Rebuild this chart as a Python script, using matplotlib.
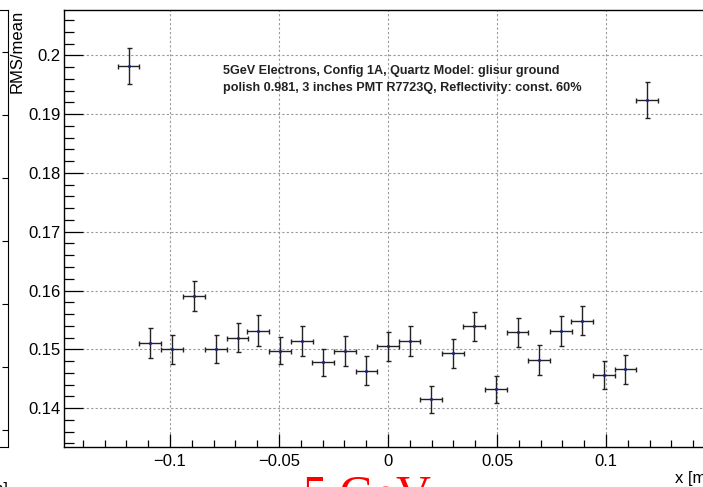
import matplotlib
matplotlib.use("Agg")
import matplotlib.pyplot as plt
import numpy as np
from matplotlib.ticker import MultipleLocator

plt.rcParams['font.family'] = ['Liberation Sans', 'DejaVu Sans']

# bin centres [m], RMS/mean values and their errors
pos = [-0.119, -0.109, -0.099, -0.089, -0.079, -0.069, -0.0595, -0.0495, -0.0396,
       -0.0297, -0.0198, -0.0099, 0.0, 0.0099, 0.0198, 0.0297, 0.0396, 0.0495,
       0.0594, 0.0693, 0.0792, 0.0891, 0.099, 0.1089, 0.1188]
rms_mean = [0.1982, 0.1511, 0.1500, 0.1591, 0.1500, 0.1520, 0.1532, 0.1498, 0.1514,
            0.1478, 0.1497, 0.1464, 0.1505, 0.1514, 0.1415, 0.1493, 0.1539, 0.1432,
            0.1529, 0.1482, 0.1531, 0.1549, 0.1456, 0.1466, 0.1924]
rms_err = [0.0031, 0.0025, 0.0025, 0.0026, 0.0024, 0.0025, 0.0026, 0.0023, 0.0025,
           0.0023, 0.0025, 0.0025, 0.0025, 0.0026, 0.0023, 0.0025, 0.0025, 0.0023,
           0.0025, 0.0025, 0.0025, 0.0025, 0.0024, 0.0025, 0.0031]
pos_err = [0.005] * len(pos)

info = ("5GeV Electrons, Config 1A, Quartz Model: glisur ground\n"
        "polish 0.981, 3 inches PMT R7723Q, Reflectivity: const. 60%")

W, H = 703, 487
fig = plt.figure(figsize=(W / 100, H / 100), dpi=100)
fig.patch.set_facecolor('white')

def px(x0, y0, x1, y1):
    # pixel box (top-left origin) -> figure fraction rect
    return [x0 / W, 1 - y1 / H, (x1 - x0) / W, (y1 - y0) / H]

# edge of the neighbouring pad on the left
ax0 = fig.add_axes(px(-120, 10, 8, 447))
ax0.set_xlim(0, 1)
ax0.set_ylim(0, 437)
ax0.spines['left'].set_visible(False)
ax0.set_xticks([])
ax0.yaxis.tick_right()
ax0.set_yticks(np.arange(17, 437, 63))
ax0.tick_params(axis='y', direction='in', length=4, width=0.8, labelright=False)
ax0.text(1, -0.08, "x [m]", transform=ax0.transAxes, ha='right', va='top', fontsize=12)

# main pad
ax = fig.add_axes(px(64, 10, 712, 447))
ax.errorbar(pos, rms_mean, yerr=rms_err, xerr=pos_err, fmt='.', ms=2.5,
            color='#1a1a1a', mfc='#1a237e', mec='#1a237e', ecolor='#222222',
            elinewidth=1.0, capsize=1.8, capthick=1.0)

ax.set_xlim(-0.1486, 0.1486)
ax.set_ylim(0.1334, 0.2077)
ax.xaxis.set_major_locator(MultipleLocator(0.05))
ax.xaxis.set_minor_locator(MultipleLocator(0.01))
ax.yaxis.set_major_locator(MultipleLocator(0.01))
ax.yaxis.set_minor_locator(MultipleLocator(0.002))
ax.xaxis.set_major_formatter(plt.FuncFormatter(lambda v, p: ('%g' % round(v, 3)).replace('-', '\u2212')))
ax.yaxis.set_major_formatter(plt.FuncFormatter(lambda v, p: '%g' % round(v, 3)))

ax.tick_params(axis='x', which='major', direction='in', length=9.5, width=0.9, pad=5, labelsize=12)
ax.tick_params(axis='x', which='minor', direction='in', length=5, width=0.9)
ax.tick_params(axis='y', which='major', direction='in', length=14, width=0.9, pad=2.5, labelsize=12)
ax.tick_params(axis='y', which='minor', direction='in', length=7, width=0.9)
for s in ax.spines.values():
    s.set_linewidth(1.0)

ax.grid(True, which='major', color='#999999', linestyle=(0, (2, 2)), linewidth=0.8)
ax.set_axisbelow(True)

ax.text(223 / W, 1 - 79.5 / H, info, transform=fig.transFigure, ha='left', va='center',
        fontsize=9.1, fontweight='bold', linespacing=1.6, color='#222222')
ax.text(17 / W, 1 - 10 / H, "RMS/mean", transform=fig.transFigure, rotation=90,
        ha='center', va='top', fontsize=12)
ax.text(675 / W, 1 - 478 / H, "x [m]", transform=fig.transFigure, ha='left',
        va='center', fontsize=12)

fig.text(303 / W, 1 - 509 / H, "5 GeV", color='red', fontsize=35,
         family=['Liberation Serif', 'DejaVu Serif'], ha='left', va='baseline')

fig.savefig("out.png", dpi=100)
